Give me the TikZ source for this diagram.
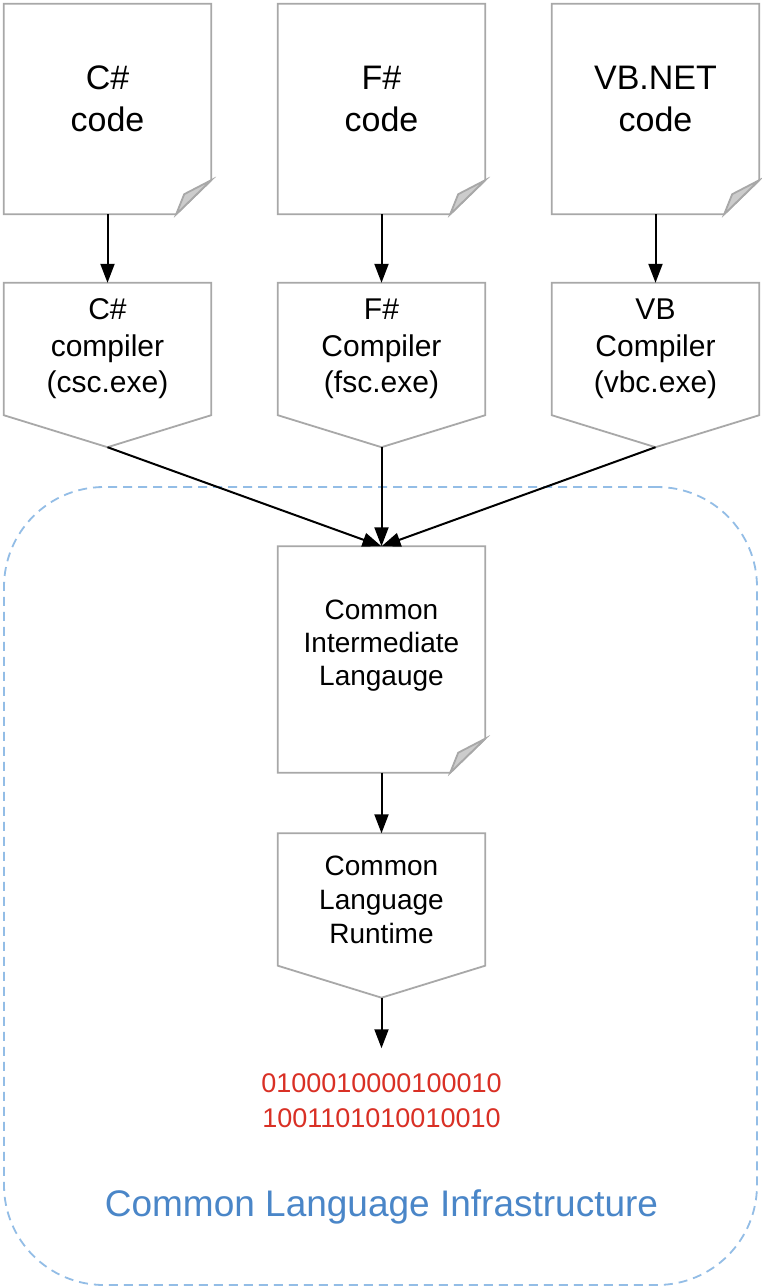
\documentclass[tikz,border=0pt]{standalone}
\usepackage{fontspec}
\setmainfont{Liberation Sans}
\usepackage{tikz}
\usetikzlibrary{positioning, calc, arrows.meta}
\usepackage{xcolor}
\definecolor{boxgray}{HTML}{A8A8A8}
\definecolor{foldgray}{HTML}{CCCCCC}
\definecolor{clidash}{HTML}{93BDE6}
\definecolor{cliblue}{HTML}{4A86C8}
\definecolor{binred}{HTML}{D93025}

\begin{document}
\begin{tikzpicture}[x=1pt, y=-1pt, >={Triangle[width=14pt,length=19pt]},
  doc/.style={minimum width=207pt, minimum height=210pt, inner sep=0pt},
  doc text/.style={align=center, inner sep=0pt, font=\fontsize{34}{42}\selectfont},
  compiler/.style={minimum width=207pt, minimum height=132pt, inner sep=0pt, align=center, font=\fontsize{30}{36.5}\selectfont},
  box line/.style={draw=boxgray, line width=1.8pt},
  fold/.style={box line, fill=foldgray},
  flow/.style={->, line width=2pt},
  cli box/.style={draw=clidash, dash pattern=on 9pt off 6pt, line width=1.8pt, rounded corners=100pt, minimum width=753pt, minimum height=798pt},
  binary/.style={align=center, inner sep=0pt, text=binred, font=\fontsize{27}{35}\selectfont},
  cli label/.style={inner sep=0pt, text=cliblue, font=\fontsize{37}{44}\selectfont}]
      \useasboundingbox (0,0) rectangle (761,1288);
      \fill [white] (0,0) rectangle (761,1288);
      \node [cli box] (cli) at (380.5,886) {};

      % Source files and compilers
      \foreach \m/\l [count=\i] in {cs/C\#, fs/F\#, vb/VB.NET}{
        \node [doc] (\m-code) at (-166.5+274*\i,109) {};
        \node [doc text, yshift=10pt] (\m-code-text) at (\m-code) {\l\\code};
      }
      \foreach \m/\l [count=\i] in {cs/{C\#\\compiler\\(csc.exe)}, fs/{F\#\\Compiler\\(fsc.exe)}, vb/{VB\\Compiler\\(vbc.exe)}}
        \node [compiler] (\m-comp) at (-166.5+274*\i,349) {\l};

      % Inside the infrastructure
      \node [doc, minimum height=226pt] (cil) at (381.5,659.5) {};
      \node [doc text, font=\fontsize{28}{33}\selectfont, yshift=14pt] (cil-text) at (cil) {Common\\Intermediate\\Langauge};
      \node [compiler, font=\fontsize{28}{34}\selectfont] (clr) at (381.5,899.5) {Common\\Language\\Runtime};
      \node [binary] (bits) at (381.5,1100.5) {0100010000100010\\1001101010010010};
      \node [cli label] (cli-label) at (381.5,1207) {Common Language Infrastructure};

      % Outlines of the shapes
      \foreach \n in {cs-code, fs-code, vb-code, cil}{
        \draw [box line] (\n.north west) -- (\n.north east) -- ([yshift=34pt]\n.south east) -- ([xshift=-35pt]\n.south east) -- (\n.south west) -- cycle;
        \draw [fold] ([xshift=-35pt]\n.south east) -- ([xshift=-27pt,yshift=20pt]\n.south east) -- ([yshift=34pt]\n.south east) -- cycle;
      }
      \foreach \n in {cs-comp, fs-comp, vb-comp, clr}{
        \coordinate (\n-tip) at ([yshift=-32pt]\n.south);
        \draw [box line] (\n.north west) -- (\n.north east) -- (\n.south east) -- (\n-tip) -- (\n.south west) -- cycle;
      }

      % Draw the connecting arrows
      \foreach \m in {cs, fs, vb}{
        \draw [flow] (\m-code) -- (\m-comp);
        \draw [flow] (\m-comp-tip) -- (cil.north);
      }
      \draw [flow] (cil) -- (clr);
      \draw [flow, shorten >=25pt] (clr-tip) -- (bits.north);
    \end{tikzpicture}
\end{document}
